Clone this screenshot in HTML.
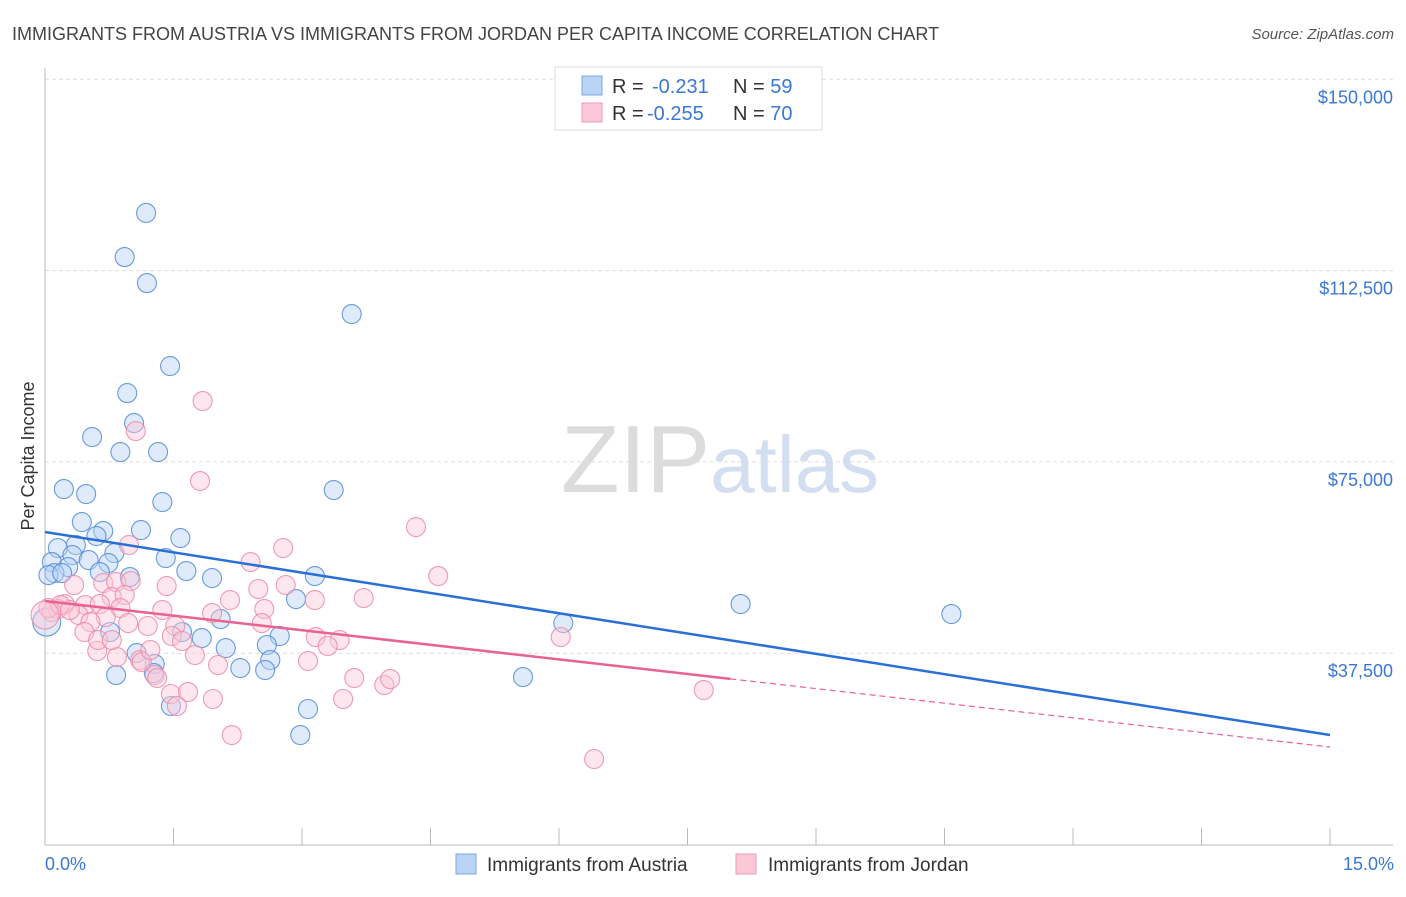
<!DOCTYPE html>
<html><head><meta charset="utf-8"><style>
body{margin:0;background:#fff;font-family:"Liberation Sans",sans-serif;}
svg text{font-family:"Liberation Sans",sans-serif;}
</style></head><body>
<svg id="chart" width="1406" height="892" xmlns="http://www.w3.org/2000/svg">
<text x="12" y="40" font-size="18" fill="#444">IMMIGRANTS FROM AUSTRIA VS IMMIGRANTS FROM JORDAN PER CAPITA INCOME CORRELATION CHART</text>
<text x="1394" y="39" font-size="15" fill="#555" font-style="italic" text-anchor="end">Source: ZipAtlas.com</text>
<text x="720" y="492" font-size="96" text-anchor="middle" fill="#ddd" font-family="Liberation Serif"><tspan fill="#dcdcdc">ZIP</tspan><tspan fill="#d3dff0" font-family="Liberation Sans" font-size="80">atlas</tspan></text>
<g id="grid"></g>
<g id="axes"></g>
<g id="points"></g>
<g id="lines"></g>
<text transform="translate(34,456) rotate(-90)" font-size="18" fill="#333" text-anchor="middle">Per Capita Income</text>
<text x="45" y="870" font-size="18" fill="#3a78d4">0.0%</text>
<text x="1394" y="870" font-size="18" fill="#3a78d4" text-anchor="end">15.0%</text>
<g>
<rect x="555" y="67" width="267" height="63" fill="#fff" stroke="#ddd"/>
<rect x="582" y="76" width="20" height="19" fill="#b9d3f5" stroke="#7aa7e0"/>
<rect x="582" y="103" width="20" height="19" fill="#fac8d6" stroke="#ee9ab3"/>
<text x="612" y="93" font-size="20" fill="#333">R = <tspan x="652" fill="#3a78d4">-0.231</tspan><tspan x="733">N = </tspan><tspan fill="#3a78d4">59</tspan></text>
<text x="612" y="120" font-size="20" fill="#333">R = <tspan x="647" fill="#3a78d4">-0.255</tspan><tspan x="733">N = </tspan><tspan fill="#3a78d4">70</tspan></text>
</g>
<g>
<rect x="456" y="854" width="20" height="20" fill="#b9d3f5" stroke="#7aa7e0"/>
<text x="487" y="871" font-size="19" fill="#333">Immigrants from Austria</text>
<rect x="736" y="854" width="20" height="20" fill="#fac8d6" stroke="#ee9ab3"/>
<text x="768" y="871" font-size="19" fill="#333">Immigrants from Jordan</text>
</g>
</svg>
<script>
const yTicks=[37500,75000,112500,150000];
const yTickLabels=["$37,500","$75,000","$112,500","$150,000"];
const xTicks=[0,1.5,3,4.5,6,7.5,9,10.5,12,13.5,15];
const austriaX=[1.18,0.93,1.19,3.58,1.46,0.96,1.04,0.55,0.88,1.32,0.22,0.48,1.37,3.37,0.43,0.68,1.12,0.60,1.58,0.36,0.15,0.32,0.81,0.51,1.41,0.74,0.08,0.27,0.11,0.64,0.99,1.65,1.95,3.15,2.93,2.05,8.12,10.58,6.05,0.76,1.60,1.83,2.74,2.59,2.11,1.07,1.28,0.83,2.28,2.63,2.57,1.27,5.58,1.47,3.07,2.98,0.04,0.20,0.02];
const austriaY=[123800,115150,110050,103980,93790,88490,82610,79870,76930,76930,69680,68700,67130,69480,63210,61450,61640,60470,60070,58700,58110,56740,57130,55760,56150,55170,55370,54390,53210,53410,52430,53610,52230,52630,48120,44200,47140,45180,43410,41650,41650,40470,40870,39100,38510,37530,35380,33220,34590,36160,34200,33610,32830,27150,26560,21460,52820,53210,43610];
const jordanX=[1.84,1.06,1.81,4.33,4.59,0.98,2.40,2.78,0.34,0.68,0.83,1.00,1.42,2.49,2.81,3.72,3.15,0.78,0.93,0.23,0.47,0.64,0.88,0.15,0.08,1.37,1.95,2.56,0.39,0.71,0.53,1.20,1.52,0.46,1.48,1.60,1.75,3.16,3.44,3.30,6.02,0.61,0.84,1.11,0.62,3.07,2.02,1.13,1.28,1.31,3.61,3.96,4.03,1.47,1.67,1.96,3.48,1.54,2.18,6.41,7.69,0.04,0.18,0.29,0.97,1.23,2.16,2.53,0.78,0.00];
const jordanY=[86930,81050,71250,62230,52630,58700,55370,58110,50860,51250,51450,51650,50670,50080,50860,48310,47920,48510,48900,47140,46940,47140,46350,46160,45570,45960,45370,46160,44980,44590,43610,42830,42830,41650,40870,39890,37140,40670,40080,38910,40670,37930,36750,36160,40080,35970,35180,35770,33220,32630,32630,31260,32440,29500,29890,28520,28520,27150,21460,16760,30280,46350,46940,45960,43410,38120,47920,43410,40080,44980];
const austriaLine=[61250,21460];
const jordanLine=[47730,19110];
const jordanSolidEnd=8.0;
const NS="http://www.w3.org/2000/svg";
const X0=45,X1=1330,Yb=844.5,Ypx=191.3/37500;
function xs(v){return X0+(X1-X0)*v/15;}
function ys(v){return Yb-v*Ypx;}
function mk(tag,attrs,parent){const e=document.createElementNS(NS,tag);for(const k in attrs)e.setAttribute(k,attrs[k]);document.getElementById(parent).appendChild(e);return e;}
yTicks.forEach((t,i)=>{
 const l=mk('line',{x1:45,x2:1393,y1:ys(t),y2:ys(t),stroke:'#ddd','stroke-dasharray':'4,3'},'grid');
 
 
 const tx=mk('text',{x:1393,y:ys(t)+24,'font-size':18,fill:'#3a78d4','text-anchor':'end'},'grid');
 tx.textContent=yTickLabels[i];
 
 
});
const ax=mk('line',{x1:45,x2:45,y1:68,y2:845,stroke:'#bbb'},'axes');


const bx=mk('line',{x1:45,x2:1393,y1:845,y2:845,stroke:'#bbb'},'axes');


xTicks.forEach(t=>{
 const l=mk('line',{x1:xs(t),x2:xs(t),y1:828,y2:845,stroke:'#bbb'},'axes');
 
 
});
function pts(X,Y,fill,stroke,name,bigIdx){
 X.forEach((x,i)=>{
  const c=mk('circle',{cx:xs(x),cy:ys(Y[i]),r:i===bigIdx?14:9.5,fill:fill,'fill-opacity':0.45,stroke:stroke,'stroke-opacity':0.85,'stroke-width':1.1},'points');
  
  
 });
}
pts(austriaX,austriaY,'#b9d3f5','#4f8ad8','austria-point',austriaX.length-1);
pts(jordanX,jordanY,'#fac8d6','#ec8aa8','jordan-point',jordanX.length-1);
const bl=mk('line',{x1:xs(0),y1:ys(austriaLine[0]),x2:xs(15),y2:ys(austriaLine[1]),stroke:'#2a6fd6','stroke-width':2.5},'lines');


const jy=v=>jordanLine[0]+(jordanLine[1]-jordanLine[0])*v/15;
const pl=mk('line',{x1:xs(0),y1:ys(jy(0)),x2:xs(jordanSolidEnd),y2:ys(jy(jordanSolidEnd)),stroke:'#e8638f','stroke-width':2.5},'lines');


const pd=mk('line',{x1:xs(jordanSolidEnd),y1:ys(jy(jordanSolidEnd)),x2:xs(15),y2:ys(jy(15)),stroke:'#e8638f','stroke-width':1.2,'stroke-dasharray':'6,4'},'lines');


</script>
</body></html>
